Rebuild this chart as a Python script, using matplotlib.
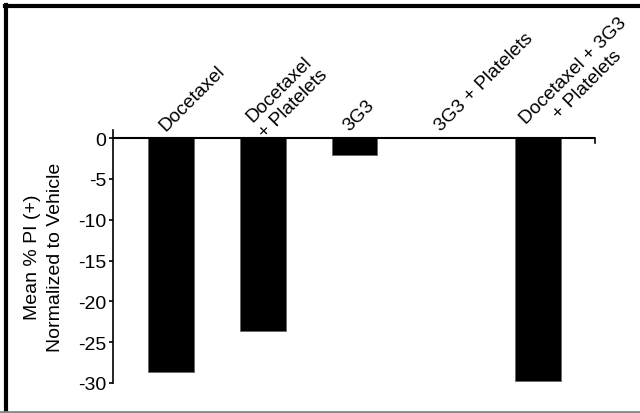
import numpy as np
import matplotlib
matplotlib.use("Agg")
import matplotlib.pyplot as plt
from matplotlib.lines import Line2D

plt.rcParams['font.family'] = ['Liberation Sans', 'DejaVu Sans']

# data
groups = ["Docetaxel", "Docetaxel\n+ Platelets", "3G3", "3G3 + Platelets",
          "Docetaxel + 3G3\n+ Platelets"]
mean_pi = [-28.6, -23.6, -2.1, 0.15, -29.7]
yticks = [0, -5, -10, -15, -20, -25, -30]

fig = plt.figure(figsize=(6.4, 4.14), dpi=100)
ax = fig.add_axes([0.1766, 0.0725, 0.7531, 0.611])

x = np.arange(len(groups))
ax.bar(x, mean_pi, width=0.5, color="black", edgecolor="#666666", linewidth=0.6)

ax.set_xlim(-0.632, 4.621)
ax.set_ylim(-30, 1.0)
ax.set_yticks(yticks)
ax.set_yticklabels([str(v) for v in yticks], fontsize=14)
ax.tick_params(axis="y", direction="out", length=3, width=1.2, pad=2)
ax.set_xticks([])

for s in ["top", "bottom"]:
    ax.spines[s].set_visible(False)
ax.spines["left"].set_linewidth(1.2)
ax.spines["right"].set_linewidth(1.2)
ax.spines["right"].set_bounds(-0.6, 0)
ax.axhline(0, color="black", lw=1.5, zorder=3)

ax.set_ylabel("Mean % PI (+)\nNormalized to Vehicle", fontsize=14,
              labelpad=10, linespacing=1.45)

# category labels above the zero line, rotated 45 degrees
for xi, name in zip(x, groups):
    ax.annotate(name, xy=(xi, 0), xytext=(-6.0, 7.5),
                textcoords="offset points", rotation=45,
                rotation_mode="anchor", ha="left", va="center",
                multialignment="center", fontsize=13.8, linespacing=1.2)

# frame of the original figure
fig.add_artist(Line2D([0.008, 1.0], [0.984, 0.984], transform=fig.transFigure,
                      color="black", lw=3))
fig.add_artist(Line2D([0.0095, 0.0095], [0.0, 0.986], transform=fig.transFigure,
                      color="black", lw=3))
fig.add_artist(Line2D([0.0, 1.0], [0.003, 0.003], transform=fig.transFigure,
                      color="#888888", lw=2))

fig.savefig("out.png", dpi=100)
